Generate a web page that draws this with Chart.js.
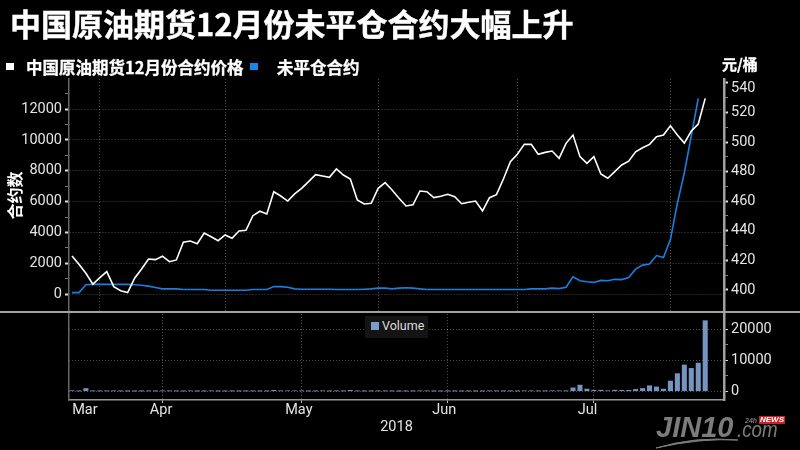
<!DOCTYPE html>
<html><head><meta charset="utf-8">
<script src="https://cdn.jsdelivr.net/npm/chart.js@4"></script>
<style>
html,body{margin:0;padding:0;background:#000;width:800px;height:450px;overflow:hidden}
#stage{position:relative;width:800px;height:450px;background:#000;font-family:"Noto Sans CJK SC","Noto Sans",sans-serif;color:#fff}
canvas{position:absolute;left:0}
.t{position:absolute;white-space:nowrap;line-height:1}
.sq{position:absolute;width:8px;height:7px}
svg{position:absolute;left:0;top:0}
</style></head><body>
<div id="stage">
<canvas id="top" width="800" height="313" style="top:0;width:800px;height:313px"></canvas>
<canvas id="bottom" width="800" height="137" style="top:313px;width:800px;height:137px"></canvas>
<div class="t" style="left:10px;top:7px;font-size:31px;font-weight:700;-webkit-text-stroke:0.4px #fff">中国原油期货12月份未平仓合约大幅上升</div>
<div class="sq" style="left:6px;top:63px;background:#fff"></div>
<div class="t" style="left:26px;top:59px;font-size:16.5px;font-weight:700;-webkit-text-stroke:0.3px #fff">中国原油期货12月份合约价格</div>
<div class="sq" style="left:250px;top:63px;background:#1a84ea"></div>
<div class="t" style="left:277px;top:59px;font-size:16.5px;font-weight:700;-webkit-text-stroke:0.3px #fff">未平仓合约</div>
<div class="t" style="left:722px;top:56px;font-size:15px;font-weight:700;-webkit-text-stroke:0.3px #fff">元/桶</div>
<div class="t" style="left:365px;top:316px;width:63px;height:22px;background:#141414"></div>
<div class="sq" style="left:371px;top:322px;width:8px;height:8px;background:#7d9bc6"></div>
<div class="t" style="left:382px;top:320px;font-family:Roboto;font-size:12.5px;color:#ddd">Volume</div>
<div class="t" style="left:656px;top:413px;font-family:'Liberation Sans';font-style:italic;font-weight:700;font-size:29px;color:#7c7c7c">JIN10</div>
<div class="t" style="left:737px;top:419px;font-family:'Liberation Sans';font-style:italic;font-size:22px;color:#7c7c7c;transform:scaleX(.85);transform-origin:left">.com</div>
<div class="t" style="left:745px;top:417px;font-family:'Liberation Sans';font-style:italic;font-weight:700;font-size:7px;color:#777">24h</div>
<div class="t" style="left:759px;top:416px;background:#c8202a;font-family:'Liberation Sans';font-style:italic;font-weight:700;font-size:8px;color:#fff;padding:0 1px">NEWS</div>
<svg width="800" height="450"><path d="M656 448 Q 695 436 738 440 Q 700 438 656 448 Z" fill="#7c7c7c" stroke="#7c7c7c" stroke-width="1"/></svg>
</div>
<script>
const monthLabels = ['Mar','Apr','May','Jun','Jul'];
const monthLabelIndex = [1.85,12.8,32.6,53.5,74.1];
const monthBoundaries = [4,22,44,64,86];
const yearLabel = '2018';
const priceValues = [423,417.4,411.3,403.9,408.3,412.4,402.2,399.5,398.2,407.9,414.2,420.9,420.5,422.8,419.1,420.3,432.2,433.1,431.3,438.5,436,433.3,437.2,434.9,439.9,440.3,450.2,453.2,451.4,466.4,463.5,460.1,464.9,468.7,473.2,477.9,477,476.1,481.8,477.7,475,460.8,458.1,458.6,468.7,472.5,467.6,462,456.8,457.6,466.9,466.4,462.4,463.3,464.7,463,458.3,459.3,460.1,453.4,462.4,464.4,475,486.7,491.7,498.4,498.4,491.7,493,493.9,489,499.1,504.7,490.1,485.6,490.1,478.4,475.5,480,484.5,487,493.4,496.1,498.4,503.6,504.7,511,504.7,499.3,507.4,512.2,529.5];
const openInterest = [110,110,620,640,640,640,640,640,640,620,590,530,440,350,350,350,310,310,310,310,260,260,260,260,260,260,310,310,310,500,500,460,350,330,330,330,330,330,310,310,310,310,330,350,400,400,350,400,420,400,350,310,310,310,310,310,310,310,310,310,310,310,310,310,310,310,350,350,350,400,370,460,1140,880,810,770,900,880,970,950,1080,1630,1890,1960,2510,2380,3540,5900,7860,10270,12690];
const volumeValues = [200,60,900,100,80,100,100,60,40,50,60,90,60,120,110,70,50,130,50,60,120,50,50,60,50,60,70,60,60,300,120,150,150,120,60,70,140,60,90,70,300,100,60,70,90,90,70,40,50,60,130,130,40,60,50,60,50,60,40,50,110,100,60,70,60,150,120,100,80,150,150,100,1100,2000,700,300,350,150,350,300,300,600,900,1800,1400,700,3300,5700,8500,7400,9100,22800];
const leftTicks = [0,1000,2000,3000,4000,5000,6000,7000,8000,9000,10000,11000,12000,13000];
const rightTicks = [400,410,420,430,440,450,460,470,480,490,500,510,520,530,540];
const volumeTicks = [0,5000,10000,15000,20000];

const xMin=-0.43, xMax=93.7;
const pts = a => a.map((y,x)=>({x,y}));
const gridGray='rgba(255,255,255,0.3)';
const gridDash=[1,2];
const labelFont={family:'Roboto',size:14.5};
function noPad(s){s.paddingTop=0;s.paddingBottom=0;s.paddingLeft=0;s.paddingRight=0;}
function yGridOpt(major){return {
  color:c=>major(c.tick.value)?gridGray:'transparent',
  tickColor:c=>major(c.tick.value)?'#ddd':'#777',
  tickWidth:c=>major(c.tick.value)?2:1,
  tickLength:4,lineWidth:1};}

Chart.defaults.animation=false;
Chart.defaults.responsive=false;
Chart.defaults.devicePixelRatio=1;

new Chart(document.getElementById('top'),{
 type:'line',
 data:{datasets:[
  {label:'中国原油期货12月份合约价格',data:pts(priceValues),yAxisID:'yR',borderColor:'#fff',borderWidth:1.6,pointRadius:0,tension:0},
  {label:'未平仓合约',data:pts(openInterest),yAxisID:'yL',borderColor:'#1a7fe0',borderWidth:1.6,pointRadius:0,tension:0}
 ]},
 options:{
  layout:{padding:{top:79,bottom:1,left:0,right:0}},
  plugins:{legend:{display:false},tooltip:{enabled:false}},
  scales:{
   x:{type:'linear',min:xMin,max:xMax,afterBuildTicks:s=>{s.ticks=monthBoundaries.map(v=>({value:v}));},
      afterFit:s=>{s.height=0;noPad(s);},
      ticks:{display:false},
      grid:{color:gridGray,lineWidth:1,drawTicks:false},border:{display:false,dash:gridDash}},
   yL:{type:'linear',position:'left',min:-1146,max:13944,afterBuildTicks:s=>{s.ticks=leftTicks.map(v=>({value:v}));},
      afterFit:s=>{s.width=69;noPad(s);},
      title:{display:true,text:'合约数',color:'#fff',font:{family:'Noto Sans CJK SC',size:16,weight:'700'},padding:{top:5,bottom:0}},
      ticks:{color:'#e4e4e4',font:labelFont,padding:3,autoSkip:false,callback:v=>v%2000===0?String(v):''},
      grid:yGridOpt(v=>v%2000===0),border:{color:'#666',width:1.5,dash:gridDash}},
   yR:{type:'linear',position:'right',min:385.1,max:542.6,afterBuildTicks:s=>{s.ticks=rightTicks.map(v=>({value:v}));},
      afterFit:s=>{s.width=76;noPad(s);},
      ticks:{color:'#e4e4e4',padding:3,autoSkip:false,
        font:c=>c.tick&&c.tick.value===540?{...labelFont,lineHeight:0.7}:labelFont,
        callback:v=>v===540?['','540']:(v%20===0?String(v):'')},
      grid:{drawOnChartArea:false,tickColor:c=>c.tick.value%20===0?'#ddd':'#888',tickLength:4,tickWidth:c=>c.tick.value%20===0?2:1},
      border:{color:'#a0a0a0',width:2.5}}
  }
 },
 plugins:[{id:'sep',afterDraw(c){const g=c.ctx;g.save();g.fillStyle='#a0a0a0';g.fillRect(0,c.height-2,800,2);g.restore();}}]
});

new Chart(document.getElementById('bottom'),{
 type:'bar',
 data:{datasets:[{label:'Volume',data:pts(volumeValues),backgroundColor:'#7594bf',barThickness:4.4,yAxisID:'yV'}]},
 options:{
  layout:{padding:{top:1,bottom:0,left:0,right:0}},
  plugins:{legend:{display:false},tooltip:{enabled:false}},
  scales:{
   x:{type:'linear',offset:false,min:xMin,max:xMax,
      afterBuildTicks:s=>{s.ticks=monthBoundaries.map(v=>({value:v})).concat(monthLabelIndex.map(v=>({value:v})));},
      afterFit:s=>{s.height=50;noPad(s);},
      title:{display:true,text:yearLabel,color:'#e4e4e4',font:{family:'Roboto',size:14.5},padding:{top:-1,bottom:14}},
      ticks:{color:'#e4e4e4',font:labelFont,padding:-1,autoSkip:false,maxRotation:0,
        callback:v=>{const i=monthLabelIndex.indexOf(v);return i>=0?monthLabels[i]:'';}},
      grid:{color:c=>c.tick&&monthBoundaries.includes(c.tick.value)?gridGray:'transparent',
            tickColor:c=>c.tick&&monthBoundaries.includes(c.tick.value)?'#bbb':'transparent',tickLength:3},
      border:{color:'#999',width:1.5,dash:gridDash}},
   yL:{type:'linear',position:'left',min:0,max:1,afterFit:s=>{s.width=69;noPad(s);},
      ticks:{display:false},grid:{display:false},border:{color:'#666',width:1.5}},
   yV:{type:'linear',position:'right',min:-2820,max:24960,afterBuildTicks:s=>{s.ticks=volumeTicks.map(v=>({value:v}));},
      afterFit:s=>{s.width=76;noPad(s);},
      ticks:{color:'#e4e4e4',font:labelFont,padding:3,autoSkip:false,callback:v=>v%10000===0?String(v):''},
      grid:{color:c=>c.tick.value%10000===0?gridGray:'transparent',tickColor:c=>c.tick.value%10000===0?'#ddd':'#888',tickLength:4},
      border:{color:'#a0a0a0',width:2.5,dash:gridDash}}
  }
 }
});
</script>
</body></html>
